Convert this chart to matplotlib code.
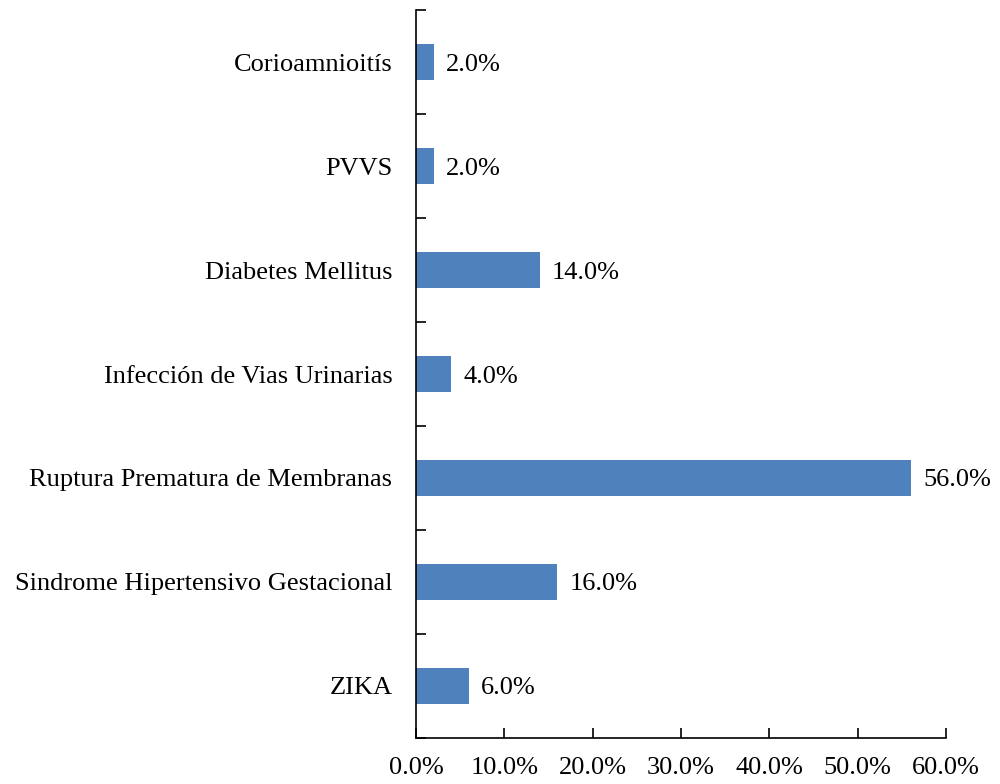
import numpy as np
import matplotlib
matplotlib.use("Agg")
import matplotlib.pyplot as plt
from matplotlib.ticker import FixedLocator, PercentFormatter

plt.rcParams['font.family'] = ['Liberation Serif', 'DejaVu Serif']

categorias = ["ZIKA", "Sindrome Hipertensivo Gestacional", "Ruptura Prematura de Membranas",
              "Infección de Vias Urinarias", "Diabetes Mellitus", "PVVS", "Corioamnioitís"]
porcentajes = [6.0, 16.0, 56.0, 4.0, 14.0, 2.0, 2.0]
xticks = [0, 10, 20, 30, 40, 50, 60]

fig = plt.figure(figsize=(10, 7.84), dpi=100)
ax = fig.add_axes([0.416, 0.0587, 0.53, 0.9285])

y = np.arange(len(categorias))
ax.barh(y, porcentajes, height=0.35, color="#4F81BD")

# etiquetas de valor a la derecha de cada barra
for yi, v in zip(y, porcentajes):
    ax.text(v + 1.4, yi, f"{v:.1f}%", va="center_baseline", ha="left", fontsize=19)

ax.set_xlim(0, 60)
ax.set_ylim(-0.5, len(categorias) - 0.5)
ax.set_xticks(xticks)
ax.xaxis.set_major_formatter(PercentFormatter(decimals=1))
ax.set_yticks(y)
ax.set_yticklabels(categorias)
ax.yaxis.set_minor_locator(FixedLocator(np.arange(-0.5, len(categorias), 1.0)))

ax.tick_params(axis="y", which="major", length=0, pad=17, labelsize=19)
ax.tick_params(axis="y", which="minor", length=7, direction="in", width=1.2)
ax.tick_params(axis="x", which="major", length=7, direction="in", width=1.2, pad=14, labelsize=19)

for s in ["top", "right"]:
    ax.spines[s].set_visible(False)
for s in ["left", "bottom"]:
    ax.spines[s].set_linewidth(1.2)

fig.savefig("out.png", dpi=100)
